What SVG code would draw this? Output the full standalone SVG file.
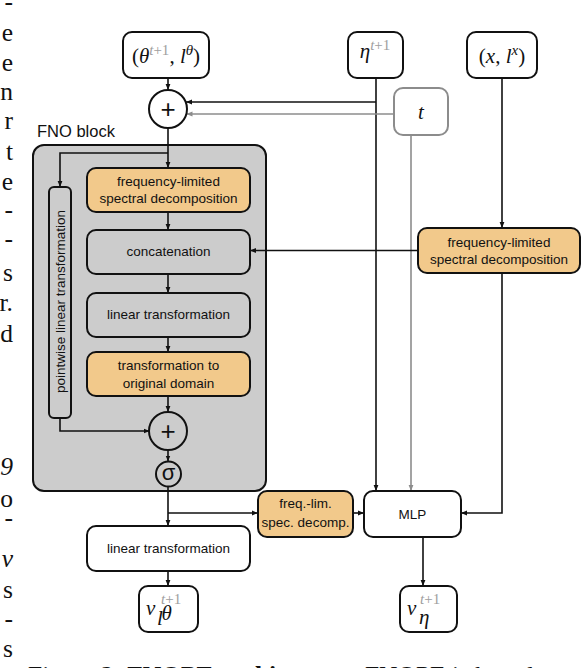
<svg xmlns="http://www.w3.org/2000/svg" width="582" height="668" viewBox="0 0 582 668">
<style>
.box{fill:#fff;stroke:#111;stroke-width:2}
.org{fill:#F2C98B;stroke:#111;stroke-width:2}
.gbox{fill:#CCCCCC;stroke:#111;stroke-width:2}
.tbox{fill:#fff;stroke:#8C8C8C;stroke-width:2}
.blk{fill:#CCCCCC;stroke:#111;stroke-width:2}
.lbl{font-family:"Liberation Sans",Arial,sans-serif;font-size:13.5px;fill:#111;text-anchor:middle}
.math{font-family:"Liberation Serif","Times New Roman",serif;font-size:21px;fill:#111}
.it{font-style:italic}
.sup{font-size:15px;fill:#9E9E9E}
.sym{font-family:"Liberation Sans",Arial,sans-serif;fill:#111;text-anchor:middle}
.c{fill:none;stroke:#111;stroke-width:1.6}
.cg{fill:none;stroke:#8C8C8C;stroke-width:1.6}
.paper{font-family:"Liberation Serif","Times New Roman",serif;font-size:25.5px;fill:#111}
</style>
<defs>
<marker id="ab" viewBox="0 0 10 10" refX="10" refY="5" markerWidth="6" markerHeight="6" markerUnits="userSpaceOnUse" orient="auto"><path d="M0,1 L10,5 L0,9 z" fill="#111"/></marker>
<marker id="ag" viewBox="0 0 10 10" refX="10" refY="5" markerWidth="6" markerHeight="6" markerUnits="userSpaceOnUse" orient="auto"><path d="M0,1 L10,5 L0,9 z" fill="#8C8C8C"/></marker>
</defs>

<g id="paper-text">
<text class="paper" text-anchor="end" x="13" y="10">-</text>
<text class="paper" text-anchor="end" x="13" y="41">e</text>
<text class="paper" text-anchor="end" x="13" y="71">e</text>
<text class="paper" text-anchor="end" x="13" y="100">n</text>
<text class="paper" text-anchor="end" x="13" y="129">r</text>
<text class="paper" text-anchor="end" x="13" y="160">t</text>
<text class="paper" text-anchor="end" x="13" y="190">e</text>
<text class="paper" text-anchor="end" x="13" y="218">-</text>
<text class="paper" text-anchor="end" x="13" y="247">-</text>
<text class="paper" text-anchor="end" x="13" y="281">s</text>
<text class="paper" text-anchor="end" x="13" y="311">r.</text>
<text class="paper" text-anchor="end" x="13" y="342">d</text>
<text class="paper" text-anchor="end" x="13" y="475" font-style="italic">9</text>
<text class="paper" text-anchor="end" x="13" y="507">o</text>
<text class="paper" text-anchor="end" x="13" y="526">-</text>
<text class="paper" text-anchor="end" x="13" y="567" font-style="italic">v</text>
<text class="paper" text-anchor="end" x="13" y="598">s</text>
<text class="paper" text-anchor="end" x="13" y="627">-</text>
<text class="paper" text-anchor="end" x="13" y="657">s</text>
<text class="paper" x="28" y="684">Figure 2: <tspan font-weight="bold">FNOPE architecture.</tspan> FNOPE is based</text>
</g>

<g id="fno-block">
<rect class="blk" x="33" y="145" width="233" height="346" rx="11"/>
<text x="37" y="137" font-family="'Liberation Sans',Arial,sans-serif" font-size="16.5px" fill="#111">FNO block</text>
</g>

<g id="connectors">
<path class="c" d="M168,78 V90" marker-end="url(#ab)"/>
<path class="c" d="M376,78 V491" marker-end="url(#ab)"/>
<path class="c" d="M376,102 H186" marker-end="url(#ab)"/>
<path class="cg" d="M394,114 H186.5" marker-end="url(#ag)"/>
<path class="cg" d="M411,135 V491" marker-end="url(#ag)"/>
<path class="c" d="M502,78 V228" marker-end="url(#ab)"/>
<path class="c" d="M502,273 V513 H461" marker-end="url(#ab)"/>
<path class="c" d="M418,250.5 H250" marker-end="url(#ab)"/>
<path class="c" d="M168,128 V168" marker-end="url(#ab)"/>
<path class="c" d="M168,153 H60 V187" marker-end="url(#ab)"/>
<path class="c" d="M168,212 V230" marker-end="url(#ab)"/>
<path class="c" d="M168,274 V293" marker-end="url(#ab)"/>
<path class="c" d="M168,337 V352" marker-end="url(#ab)"/>
<path class="c" d="M168,396 V412" marker-end="url(#ab)"/>
<path class="c" d="M60,418 V431 H149.5" marker-end="url(#ab)"/>
<path class="c" d="M168,450 V461.5" marker-end="url(#ab)"/>
<path class="c" d="M168,486.5 V526" marker-end="url(#ab)"/>
<path class="c" d="M168,513 H258" marker-end="url(#ab)"/>
<path class="c" d="M353,513 H364" marker-end="url(#ab)"/>
<path class="c" d="M168,571 V586" marker-end="url(#ab)"/>
<path class="c" d="M423,537 V586" marker-end="url(#ab)"/>
</g>

<g id="theta-input">
<rect class="box" x="123" y="32" width="86" height="46" rx="9"/>
<text class="math" x="166" y="63" text-anchor="middle">(<tspan class="it">θ</tspan><tspan class="sup" dy="-8"><tspan class="it">t</tspan>+1</tspan><tspan dy="8">, </tspan><tspan class="it">l</tspan><tspan class="it" font-size="15px" dy="-8">θ</tspan><tspan dy="8">)</tspan></text>
</g>

<g id="eta-input">
<rect class="box" x="348" y="32" width="55" height="46" rx="9"/>
<text class="math" x="375" y="58" text-anchor="middle"><tspan class="it">η</tspan><tspan class="sup" dy="-8"><tspan class="it">t</tspan>+1</tspan></text>
</g>

<g id="x-input">
<rect class="box" x="467" y="32" width="70" height="46" rx="9"/>
<text class="math" x="502" y="63" text-anchor="middle">(<tspan class="it">x</tspan>, <tspan class="it">l</tspan><tspan class="it" font-size="15px" dy="-8">x</tspan><tspan dy="8">)</tspan></text>
</g>

<g id="t-input">
<rect class="tbox" x="394" y="88" width="54" height="47" rx="9"/>
<text class="math it" x="421" y="119" text-anchor="middle" fill="#8C8C8C" font-size="23px">t</text>
</g>

<g id="plus-top">
<circle cx="168" cy="109" r="19" fill="#fff" stroke="#111" stroke-width="2"/>
<text class="sym" x="168" y="118" font-size="26px">+</text>
</g>

<g id="pointwise">
<rect class="gbox" x="49" y="187" width="22" height="231" rx="5"/>
<text class="lbl" transform="translate(64.5,301.5) rotate(-90)">pointwise linear transformation</text>
</g>

<g id="spectral-fno">
<rect class="org" x="87" y="168" width="163" height="44" rx="9"/>
<text class="lbl" x="168.5" y="186">frequency-limited</text>
<text class="lbl" x="168.5" y="203">spectral decomposition</text>
</g>

<g id="concatenation">
<rect class="gbox" x="87" y="230" width="163" height="44" rx="9"/>
<text class="lbl" x="168.5" y="256">concatenation</text>
</g>

<g id="linear-fno">
<rect class="gbox" x="87" y="293" width="163" height="44" rx="9"/>
<text class="lbl" x="168.5" y="319">linear transformation</text>
</g>

<g id="inverse">
<rect class="org" x="87" y="352" width="163" height="44" rx="9"/>
<text class="lbl" x="168.5" y="370">transformation to</text>
<text class="lbl" x="168.5" y="388">original domain</text>
</g>

<g id="plus-fno">
<circle cx="168" cy="431" r="19" fill="#CCCCCC" stroke="#111" stroke-width="2"/>
<text class="sym" x="168" y="440" font-size="26px">+</text>
</g>

<g id="sigma">
<circle cx="168.5" cy="474" r="12.5" fill="#CCCCCC" stroke="#111" stroke-width="2"/>
<text class="sym" x="168.5" y="480" font-size="22px">σ</text>
</g>

<g id="spectral-x">
<rect class="org" x="418" y="228" width="162" height="45" rx="9"/>
<text class="lbl" x="499" y="247">frequency-limited</text>
<text class="lbl" x="499" y="264">spectral decomposition</text>
</g>

<g id="spectral-out">
<rect class="org" x="258" y="491" width="95" height="46" rx="9"/>
<text class="lbl" x="305.5" y="508">freq.-lim.</text>
<text class="lbl" x="305.5" y="527">spec. decomp.</text>
</g>

<g id="mlp">
<rect class="box" x="364" y="491" width="97" height="46" rx="9"/>
<text class="lbl" x="412.5" y="519">MLP</text>
</g>

<g id="linear-out">
<rect class="box" x="87" y="526" width="163" height="45" rx="9"/>
<text class="lbl" x="168.5" y="553">linear transformation</text>
</g>

<g id="v-theta">
<rect class="box" x="139" y="586" width="59" height="46" rx="9"/>
<text class="math it" x="146" y="615" font-size="22px">v</text>
<text class="math sup" x="161" y="604"><tspan class="it">t</tspan>+1</text>
<text class="math it" x="157" y="625" font-size="14px">l</text>
<text class="math it" x="161.5" y="620" font-size="10px">θ</text>
</g>

<g id="v-eta">
<rect class="box" x="400" y="586" width="57" height="46" rx="9"/>
<text class="math it" x="407" y="615" font-size="22px">v</text>
<text class="math sup" x="420" y="604"><tspan class="it">t</tspan>+1</text>
<text class="math it" x="419" y="624" font-size="15px">η</text>
</g>
</svg>
